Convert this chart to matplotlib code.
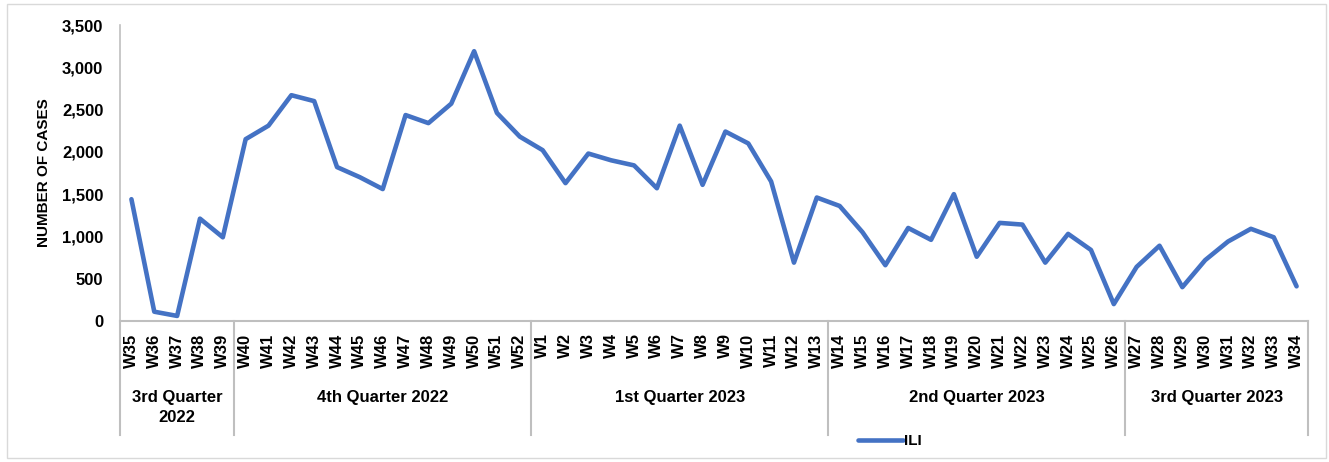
import matplotlib
matplotlib.use("Agg")
from matplotlib import pyplot as plt
from matplotlib.patches import Rectangle
import numpy as np

# %% --------------- DATA ---------------------------------------------------- #
weeks = ["W35", "W36", "W37", "W38", "W39",
         "W40", "W41", "W42", "W43", "W44", "W45", "W46", "W47", "W48", "W49", "W50", "W51", "W52",
         "W1", "W2", "W3", "W4", "W5", "W6", "W7", "W8", "W9", "W10", "W11", "W12", "W13",
         "W14", "W15", "W16", "W17", "W18", "W19", "W20", "W21", "W22", "W23", "W24", "W25", "W26",
         "W27", "W28", "W29", "W30", "W31", "W32", "W33", "W34"]
ili = [1440, 110, 60, 1210, 990,
       2150, 2310, 2670, 2600, 1820, 1700, 1560, 2435, 2340, 2570, 3190, 2460, 2180,
       2020, 1630, 1980, 1900, 1840, 1570, 2310, 1610, 2240, 2100, 1650, 690, 1460,
       1360, 1050, 660, 1100, 960, 1500, 760, 1160, 1140, 690, 1030, 840, 200,
       640, 890, 400, 720, 940, 1090, 990, 410]
quarters = ["3rd Quarter\n2022", "4th Quarter 2022", "1st Quarter 2023",
            "2nd Quarter 2023", "3rd Quarter 2023"]
quarter_sizes = [5, 13, 13, 13, 8]
y_ticks = [0, 500, 1000, 1500, 2000, 2500, 3000, 3500]

# %% --------------- PLOT ---------------------------------------------------- #
plt.rcParams['font.family'] = ['Liberation Sans', 'DejaVu Sans']
plt.rcParams['font.weight'] = 'bold'

W, H = 1329, 462
fig = plt.figure(figsize=(W / 100, H / 100), dpi=100)

# outer chart border
fig.patches.append(Rectangle((7 / W, 4 / H), 1319 / W, 454 / H, transform=fig.transFigure,
                             fill=False, edgecolor="#d9d9d9", linewidth=1.0))

ax = fig.add_axes([120 / W, (H - 321) / H, (1308 - 120) / W, (321 - 25) / H])

x = np.arange(len(weeks))
ax.plot(x, ili, color="#4472C4", linewidth=3.3, solid_joinstyle="round",
        solid_capstyle="round", label="ILI")

ax.set_xlim(-0.5, len(weeks) - 0.5)
ax.set_ylim(0, 3500)
ax.set_yticks(y_ticks)
ax.set_yticklabels([f"{v:,}" for v in y_ticks], fontsize=12, fontweight="bold")
ax.set_xticks(x)
ax.set_xticklabels(weeks, rotation=90, fontsize=12, fontweight="bold", va="top")
ax.tick_params(axis="both", length=0)
ax.tick_params(axis="y", pad=12)
ax.tick_params(axis="x", pad=9)

for side in ["top", "right"]:
    ax.spines[side].set_visible(False)
ax.spines["left"].set_color("#bfbfbf")
ax.spines["bottom"].set_color("#bfbfbf")
ax.spines["left"].set_linewidth(1.2)
ax.spines["bottom"].set_linewidth(1.5)

ax.set_ylabel("NUMBER OF CASES", fontsize=11, fontweight="bold", labelpad=8)

# quarter group separators and labels
bounds = np.concatenate([[0], np.cumsum(quarter_sizes)]) - 0.5
sep_bottom = -(435 - 321) / (321 - 25)
for b in bounds:
    ax.plot([b, b], [0, sep_bottom], color="#bfbfbf", linewidth=1.5,
            transform=ax.get_xaxis_transform(), clip_on=False)
for lab, lo, hi in zip(quarters, bounds[:-1], bounds[1:]):
    ax.text((lo + hi) / 2, -(390 - 321) / (321 - 25), lab, transform=ax.get_xaxis_transform(),
            ha="center", va="top", fontsize=12, fontweight="bold", linespacing=1.45)

fig.legend(loc="center", bbox_to_anchor=(890 / W, 1 - 441 / H), frameon=False,
           handlelength=2.9, handletextpad=0.1, prop={"size": 11, "weight": "bold"})

fig.savefig("out.png", dpi=100)
